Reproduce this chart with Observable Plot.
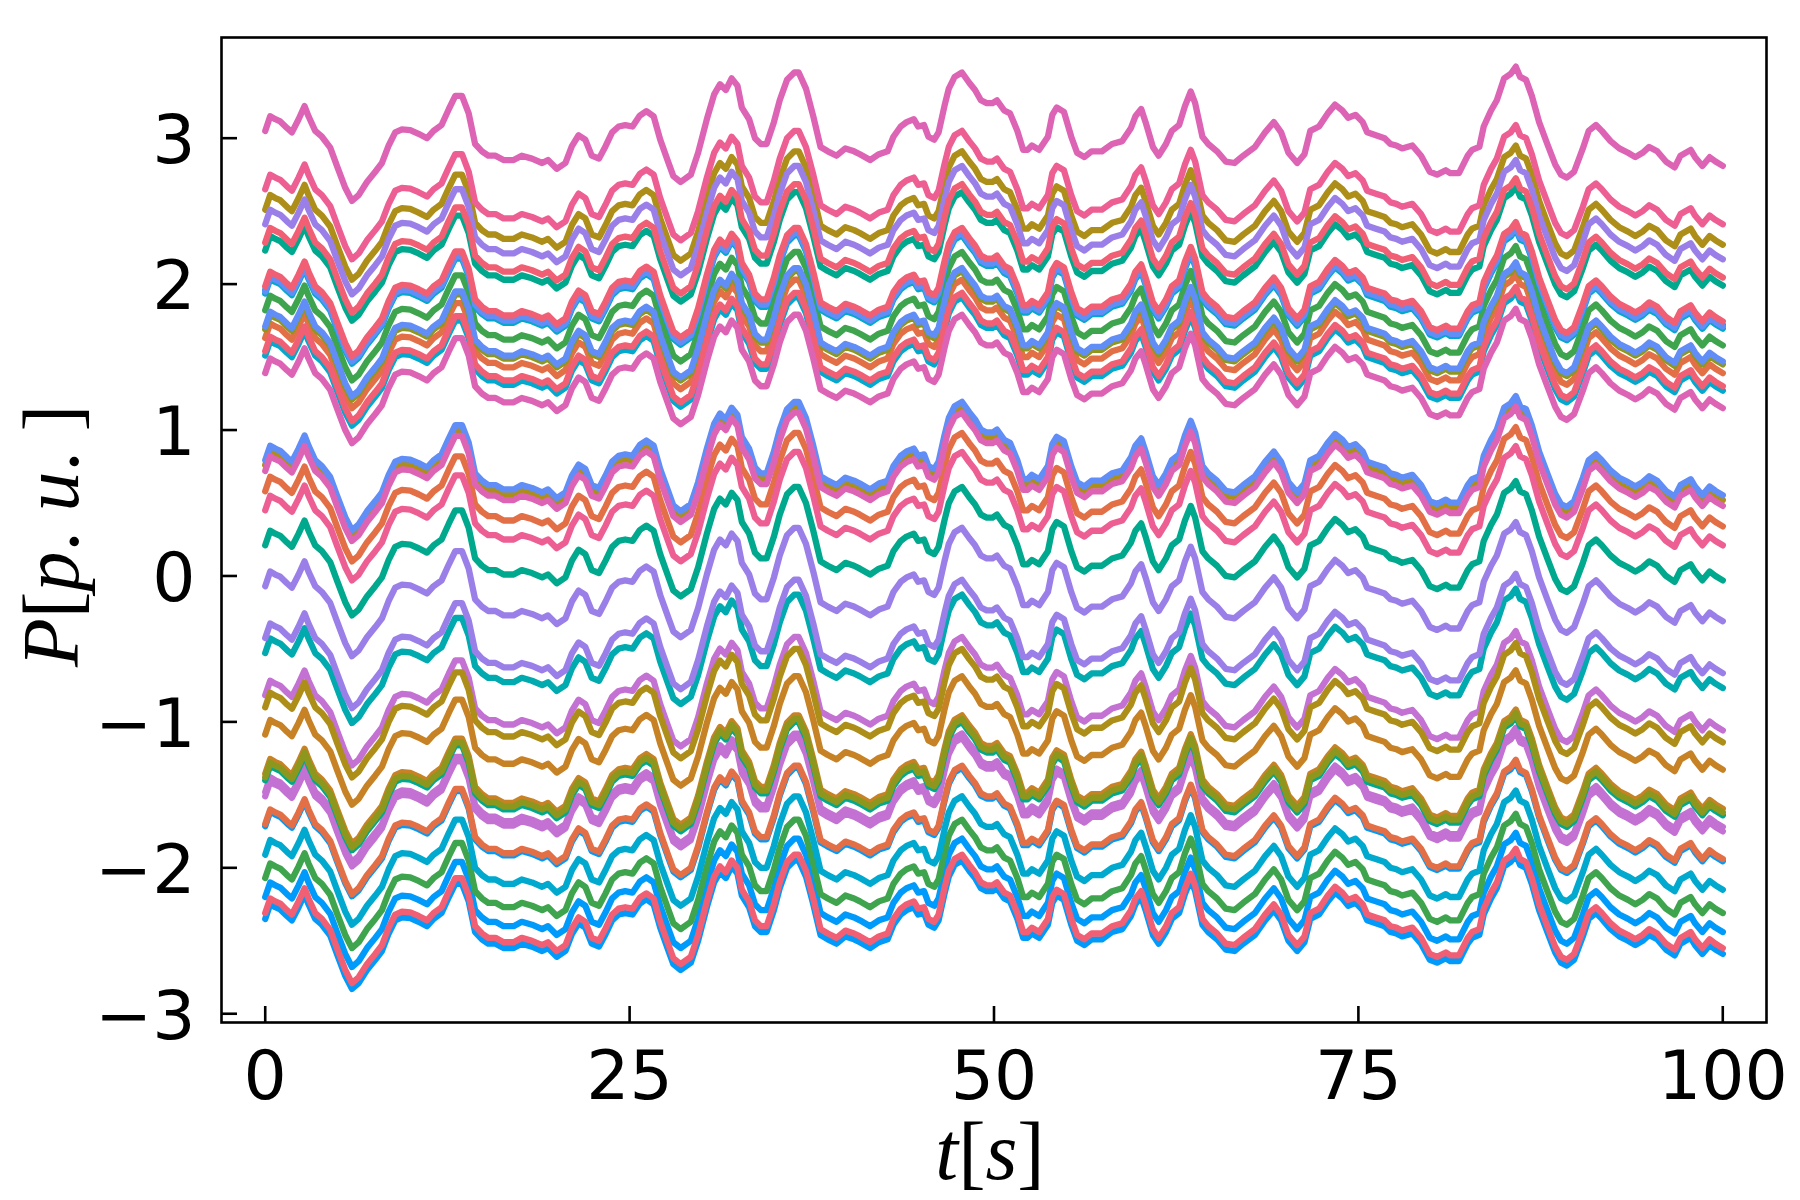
<!DOCTYPE html>
<html>
<head>
<meta charset="utf-8">
<script src="https://cdn.jsdelivr.net/npm/d3@7"></script>
<script src="https://cdn.jsdelivr.net/npm/@observablehq/plot@0.6"></script>
<style>
  html, body { margin: 0; padding: 0; background: #ffffff; }
  #chart { width: 1800px; height: 1200px; }
</style>
</head>
<body>
<div id="chart"></div>
<script>
// time samples (s)
const times = [0,0.34,0.69,1.03,1.49,1.83,2.29,2.7,2.97,3.43,3.89,4.46,4.92,5.49,5.95,6.41,6.98,7.55,8.01,8.47,8.92,9.38,9.95,10.52,11.1,11.55,12.1,12.6,13.04,13.5,13.96,14.4,14.87,15.3,15.8,16.35,17.04,17.6,18.3,19,19.4,20,20.6,21.04,21.5,21.96,22.4,22.9,23.35,23.8,24.25,24.7,25.2,25.7,26.15,26.65,27.1,27.6,28,28.5,29.2,29.7,30.3,30.8,31.2,31.6,32,32.4,32.7,33.2,33.6,34,34.4,34.9,35.3,35.8,36.3,36.6,37.1,37.6,38.1,38.6,39.2,39.8,40.4,40.8,41.5,42.1,42.7,43.1,43.6,44,44.5,44.8,45.2,45.5,45.9,46.2,46.6,46.9,47.3,47.8,48.3,48.7,49.1,49.5,49.9,50.2,50.7,51.1,51.6,52,52.3,52.6,53.1,53.7,54,54.3,54.8,55.3,55.7,56.2,56.7,57.4,58.1,58.8,59.4,59.7,60.1,60.4,60.9,61.3,61.8,62.2,62.7,63.1,63.5,63.8,64.3,64.7,65.3,65.9,66.5,67.1,67.9,68.6,69.2,69.7,70.2,70.8,71.3,71.7,72.3,72.9,73.4,73.9,74.3,74.8,75.3,75.6,76.2,76.8,77.2,77.6,78,78.7,79.3,79.9,80.4,81,81.3,81.9,82.5,82.8,83.3,83.6,84.1,84.5,85,85.45,85.8,86.1,86.5,86.9,87.4,88,88.5,88.9,89.3,89.8,90.4,90.8,91.3,91.7,92.3,92.9,93.5,94,94.5,94.95,95.5,96.1,96.7,97.1,97.8,98.1,98.6,99.1,99.5,100];

// P (p.u.) of the topmost trace at those times
const topTrace = [3.05,3.15,3.13,3.115,3.07,3.04,3.13,3.22,3.15,3.05,3.01,2.935,2.81,2.66,2.57,2.61,2.7,2.77,2.83,2.95,3.04,3.06,3.055,3.03,3,3.05,3.09,3.2,3.29,3.29,3.17,2.96,2.91,2.88,2.88,2.85,2.85,2.88,2.86,2.83,2.85,2.79,2.83,2.945,3.02,2.99,2.88,2.86,2.945,3.04,3.08,3.09,3.08,3.155,3.185,3.15,2.99,2.85,2.74,2.7,2.75,2.9,3.13,3.3,3.37,3.33,3.41,3.36,3.21,3.13,3,2.96,2.96,3.11,3.26,3.4,3.45,3.45,3.34,3.15,2.94,2.91,2.88,2.93,2.91,2.89,2.85,2.89,2.91,3.01,3.08,3.11,3.13,3.08,3.09,3.01,2.99,3.04,3.22,3.34,3.42,3.45,3.38,3.33,3.26,3.24,3.24,3.26,3.19,3.17,3.05,2.92,2.92,2.95,2.92,3.01,3.16,3.21,3.18,3.01,2.9,2.87,2.91,2.91,2.96,2.98,3.07,3.15,3.2,3.11,2.94,2.88,2.96,3.05,3.09,3.22,3.32,3.24,3.01,2.96,2.91,2.84,2.83,2.88,2.94,3.04,3.11,3.04,2.9,2.83,2.89,3.05,3.08,3.17,3.23,3.19,3.14,3.16,3.11,3.04,3.02,3,2.96,2.95,2.93,2.95,2.88,2.77,2.75,2.78,2.76,2.76,2.88,2.92,2.94,3.08,3.19,3.26,3.41,3.44,3.49,3.42,3.4,3.29,3.11,2.95,2.82,2.75,2.73,2.77,2.93,3.05,3.09,3.05,2.98,2.93,2.9,2.87,2.9,2.94,2.91,2.84,2.8,2.88,2.92,2.87,2.81,2.87,2.84,2.81];

// value of every trace at t = 100 s (all traces follow the same fluctuation)
const endValues = [2.81,2.41,2.27,2.17,2.045,1.99,1.745,1.72,1.71,1.695,1.58,1.47,1.45,1.39,1.30,1.27,1.15,
  0.553,0.52,0.48,0.34,0.21,-0.03,-0.31,-0.666,-0.768,-1.058,-1.14,-1.327,-1.595,-1.62,-1.64,-1.72,-1.75,-1.94,-1.955,-2.15,-2.31,-2.44,-2.55,-2.59];

// colour of every trace (Plots.jl default palette)
const lineColors = ["#DD64B5","#ED5E93","#AC8E18","#9B7FE9","#F05F73","#00A98D","#F05F73","#009AFA","#618DF6","#00A9CD","#3EA44E","#618DF6","#8E971D","#E36F47","#F05F73","#00A9CD","#DD64B5",
  "#618DF6","#AC8E18","#DD64B5","#E36F47","#ED5E93","#00A98D","#9B7FE9","#9B7FE9","#00AAAE","#C371D2","#AC8E18","#C68225","#C68225","#8E971D","#00A98D","#C371D2","#C371D2","#E36F47","#009AFA","#00A9CD","#3EA44E","#009AFA","#F05F73","#009AFA"];

// palette order (drawing order of the series)
const paletteOrder = ["#009AFA","#E36F47","#3EA44E","#C371D2","#AC8E18","#00AAAE","#ED5E93","#C68225","#00A98D","#8E971D","#00A9CD","#9B7FE9","#618DF6","#F05F73","#DD64B5"];

const xTicks = [0, 25, 50, 75, 100];
const yTicks = [-3, -2, -1, 0, 1, 2, 3];
const xLabel = "t[s]";
const yLabel = "P[p. u.]";

// build the table of traces
const last = topTrace.length - 1;
const order = endValues.map((v, k) => k)
  .sort((a, b) => (paletteOrder.indexOf(lineColors[a]) - paletteOrder.indexOf(lineColors[b])) || (a - b));
const rows = [];
for (const k of order) {
  for (let i = 0; i < times.length; i++) {
    rows.push({t: times[i], p: topTrace[i] - topTrace[last] + endValues[k], k, color: lineColors[k]});
  }
}

const W = 1800, H = 1200;
const mL = 221, mR = 34, mT = 37, mB = 178;
const innerW = W - mL - mR, innerH = H - mT - mB;

const fmt = d => (d < 0 ? "\u2212" + Math.abs(d) : String(d));

const chart = Plot.plot({
  width: W,
  height: H,
  marginLeft: mL,
  marginRight: mR,
  marginTop: mT,
  marginBottom: mB,
  style: {fontFamily: "'DejaVu Sans', sans-serif", background: "#ffffff", color: "#000000", overflow: "visible"},
  x: {domain: [-3, 103], axis: null},
  y: {domain: [-3.06, 3.69], axis: null},
  color: {type: "identity"},
  marks: [
    Plot.line(rows, {x: "t", y: "p", z: "k", stroke: "color", strokeWidth: 6.3, strokeLinejoin: "round", strokeLinecap: "round", curve: "linear"}),
    Plot.frame({stroke: "#000000", strokeWidth: 2.6}),
    Plot.tickX(xTicks, {x: d => d, stroke: "#000000", strokeWidth: 2.6, insetTop: innerH - 16}),
    Plot.tickY(yTicks, {y: d => d, stroke: "#000000", strokeWidth: 2.6, insetRight: innerW - 16}),
    Plot.text(xTicks, {x: d => d, text: d => fmt(d), frameAnchor: "bottom", lineAnchor: "top", dy: 28, fontSize: 68, fill: "#000000"}),
    Plot.text(yTicks, {y: d => d, text: d => fmt(d), frameAnchor: "left", textAnchor: "end", lineAnchor: "middle", dx: -26, dy: 3, fontSize: 68, fill: "#000000"}),
    Plot.text([xLabel], {text: d => d, frameAnchor: "bottom", textAnchor: "middle", lineAnchor: "top", dy: 98, dx: -4, fontSize: 82, fill: "#000000", fontFamily: "'Liberation Serif', serif"}),
    Plot.text([yLabel], {text: d => d, frameAnchor: "left", textAnchor: "middle", lineAnchor: "top", rotate: -90, dx: -200, dy: 6, fontSize: 80, fill: "#000000", fontFamily: "'Liberation Serif', serif"})
  ]
});

// typeset the axis labels like LaTeX math: letters italic, brackets and dots upright
function mathify(textEl, parts) {
  while (textEl.firstChild) textEl.removeChild(textEl.firstChild);
  const ns = "http://www.w3.org/2000/svg";
  for (const [s, italic] of parts) {
    const ts = document.createElementNS(ns, "tspan");
    ts.textContent = s;
    ts.setAttribute("font-style", italic ? "italic" : "normal");
    textEl.appendChild(ts);
  }
}
chart.querySelectorAll("text").forEach(el => {
  if (el.textContent === xLabel) mathify(el, [["t", true], ["[", false], ["s", true], ["]", false]]);
  else if (el.textContent === yLabel) mathify(el, [["P", true], ["[", false], ["p", true], [". ", false], ["u", true], [". ", false], ["]", false]]);
});

document.getElementById("chart").appendChild(chart);
</script>
</body>
</html>
